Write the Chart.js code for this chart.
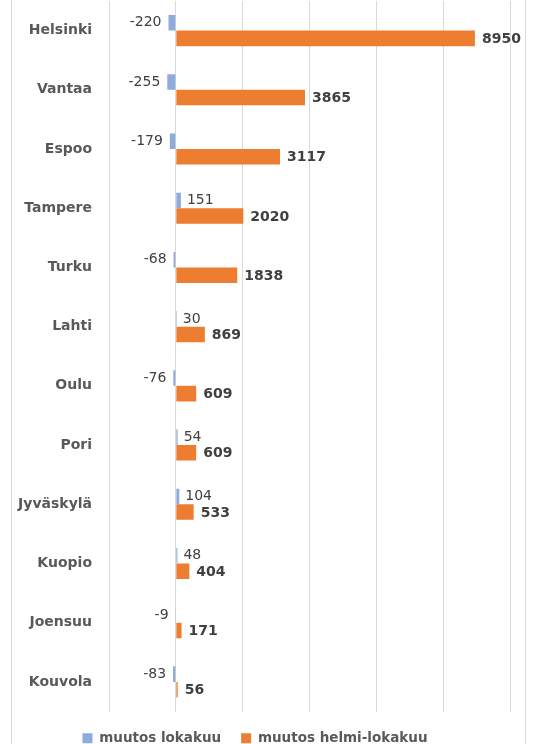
<!DOCTYPE html>
<html>
<head>
<meta charset="utf-8">
<script src="https://cdn.jsdelivr.net/npm/chart.js@4"></script>
<style>
  html, body { margin: 0; padding: 0; background: #fff; }
  #wrap { width: 539px; height: 744px; }
</style>
</head>
<body>
<div id="wrap"><canvas id="muutosChart" width="539" height="744"></canvas></div>
<script>
// kaupungit ja muutokset
const kaupungit = ['Helsinki', 'Vantaa', 'Espoo', 'Tampere', 'Turku', 'Lahti', 'Oulu', 'Pori', 'Jyväskylä', 'Kuopio', 'Joensuu', 'Kouvola'];
const muutosLokakuu = [-220, -255, -179, 151, -68, 30, -76, 54, 104, 48, -9, -83];
const muutosHelmiLokakuu = [8950, 3865, 3117, 2020, 1838, 869, 609, 609, 533, 404, 171, 56];
const sarjaNimet = ['muutos lokakuu', 'muutos helmi-lokakuu'];

const fontti = 'DejaVu Sans';

// arvot palkkien viereen
const arvoLabelit = {
    id: 'arvoLabelit',
    afterDatasetsDraw(chart) {
        const ctx = chart.ctx;
        ctx.save();
        ctx.fillStyle = '#404040';
        ctx.textBaseline = 'middle';
        chart.data.datasets.forEach((ds, di) => {
            const meta = chart.getDatasetMeta(di);
            meta.data.forEach((bar, i) => {
                const v = ds.data[i];
                if (di === 0) {
                    ctx.font = '14px "' + fontti + '"';
                    if (v < 0) {
                        ctx.textAlign = 'right';
                        ctx.fillText(String(v), bar.x - 7, bar.y);
                    } else {
                        ctx.textAlign = 'left';
                        ctx.fillText(String(v), bar.x + 6, bar.y);
                    }
                } else {
                    ctx.font = 'bold 14px "' + fontti + '"';
                    ctx.textAlign = 'left';
                    ctx.fillText(String(v), bar.x + 7, bar.y + 1);
                }
            });
        });
        ctx.restore();
    }
};

// kaavion reunat
const reuna = {
    id: 'reuna',
    beforeDraw(chart) {
        const ctx = chart.ctx;
        ctx.save();
        ctx.strokeStyle = '#D9D9D9';
        ctx.lineWidth = 1;
        ctx.strokeRect(11.5, -5, 514, 760);
        ctx.restore();
    }
};

new Chart(document.getElementById('muutosChart'), {
    type: 'bar',
    data: {
        labels: kaupungit,
        datasets: [
            {
                label: sarjaNimet[0],
                data: muutosLokakuu,
                backgroundColor: '#8FAADC',
                borderWidth: 0,
                categoryPercentage: 0.525,
                barPercentage: 1
            },
            {
                label: sarjaNimet[1],
                data: muutosHelmiLokakuu,
                backgroundColor: '#ED7D31',
                borderWidth: 0,
                categoryPercentage: 0.525,
                barPercentage: 1
            }
        ]
    },
    options: {
        indexAxis: 'y',
        responsive: false,
        animation: false,
        layout: { padding: { left: 0, right: 29, top: 1, bottom: -11 } },
        scales: {
            x: {
                min: -2000,
                max: 10000,
                ticks: { display: false, stepSize: 2000 },
                grid: { color: '#D9D9D9', drawTicks: false },
                border: { display: false }
            },
            y: {
                grid: { display: false, drawTicks: false },
                border: { display: false },
                ticks: {
                    padding: 17,
                    color: '#595959',
                    font: { family: fontti, size: 14, weight: 'bold' }
                },
                afterFit(scale) {
                    scale.width = 109;
                    scale.paddingTop = 0;
                    scale.paddingBottom = 0;
                }
            }
        },
        plugins: {
            legend: {
                position: 'bottom',
                labels: {
                    boxWidth: 10,
                    boxHeight: 10,
                    padding: 20,
                    color: '#595959',
                    font: { family: fontti, size: 13.5, weight: 'bold' }
                }
            },
            tooltip: { enabled: false }
        }
    },
    plugins: [arvoLabelit, reuna]
});
</script>
</body>
</html>
